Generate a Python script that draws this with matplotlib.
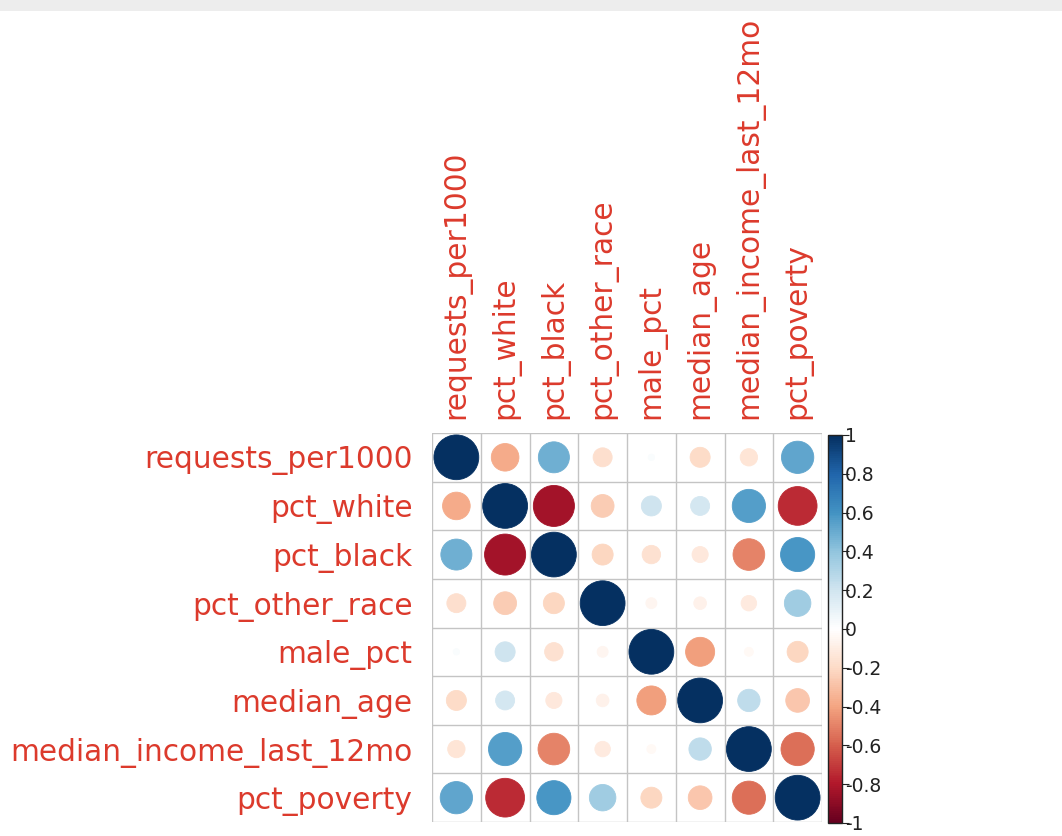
import numpy as np
import matplotlib
matplotlib.use("Agg")
import matplotlib.pyplot as plt
from matplotlib.colors import LinearSegmentedColormap, Normalize
from matplotlib.patches import Circle, Rectangle
from matplotlib.cm import ScalarMappable

variables = ["requests_per1000", "pct_white", "pct_black", "pct_other_race",
             "male_pct", "median_age", "median_income_last_12mo", "pct_poverty"]

row_requests = [1.00, -0.38, 0.48, -0.18, 0.02, -0.20, -0.15, 0.52]
row_white    = [-0.38, 1.00, -0.84, -0.26, 0.20, 0.18, 0.55, -0.75]
row_black    = [0.48, -0.84, 1.00, -0.22, -0.17, -0.13, -0.50, 0.58]
row_other    = [-0.18, -0.26, -0.22, 1.00, -0.06, -0.08, -0.12, 0.35]
row_male     = [0.02, 0.20, -0.17, -0.06, 1.00, -0.42, -0.04, -0.22]
row_age      = [-0.20, 0.18, -0.13, -0.08, -0.42, 1.00, 0.25, -0.28]
row_income   = [-0.15, 0.55, -0.50, -0.12, -0.04, 0.25, 1.00, -0.55]
row_poverty  = [0.52, -0.75, 0.58, 0.35, -0.22, -0.28, -0.55, 1.00]

corr = np.array([row_requests, row_white, row_black, row_other,
                 row_male, row_age, row_income, row_poverty])

cbar_ticks = [1, 0.8, 0.6, 0.4, 0.2, 0, -0.2, -0.4, -0.6, -0.8, -1]
cbar_labels = ["1", "0.8", "0.6", "0.4", "0.2", "0", "-0.2", "-0.4", "-0.6", "-0.8", "-1"]

palette = ["#67001F", "#B2182B", "#D6604D", "#F4A582", "#FDDBC7", "#FFFFFF",
           "#D1E5F0", "#92C5DE", "#4393C3", "#2166AC", "#053061"]
cmap = LinearSegmentedColormap.from_list("corrplot", palette, N=200)
norm = Normalize(-1, 1)

label_color = "#DC3A2C"
W, H = 1062, 836
fig = plt.figure(figsize=(W / 100, H / 100), dpi=100)
fig.patch.set_facecolor("white")
fig.patches.append(Rectangle((0, 1 - 11 / H), 1, 11 / H, transform=fig.transFigure,
                             facecolor="#EDEDED", edgecolor="none"))

ax = fig.add_axes([432 / W, 1 - 822 / H, 390 / W, 389 / H])
n = len(variables)
ax.set_xlim(-0.5, n - 0.5)
ax.set_ylim(n - 0.5, -0.5)
for i in range(n):
    for j in range(n):
        v = corr[i, j]
        c = cmap(norm(v))
        ax.add_patch(Circle((j, i), 0.46 * np.sqrt(abs(v)), facecolor=c,
                            edgecolor=c, linewidth=0.6, zorder=3))
for k in range(n + 1):
    ax.axhline(k - 0.5, color="#C4C4C4", lw=1.0, zorder=1)
    ax.axvline(k - 0.5, color="#C4C4C4", lw=1.0, zorder=1)
for s in ax.spines.values():
    s.set_visible(False)

ax.set_xticks(range(n))
ax.set_yticks(range(n))
ax.set_xticklabels(variables, rotation=90, fontsize=21.3, color=label_color,
                   family="DejaVu Sans")
ax.set_yticklabels(variables, fontsize=21.3, color=label_color, family="DejaVu Sans")
ax.xaxis.tick_top()
ax.tick_params(axis="both", length=0)
ax.tick_params(axis="x", pad=10)
ax.tick_params(axis="y", pad=14)

cax = fig.add_axes([828 / W, 1 - 823 / H, 14 / W, 388 / H])
cb = fig.colorbar(ScalarMappable(norm=norm, cmap=cmap), cax=cax)
cb.set_ticks(cbar_ticks)
cb.set_ticklabels(cbar_labels)
cb.outline.set_linewidth(1.0)
cb.outline.set_edgecolor("#222222")
cax.tick_params(axis="y", length=5, width=0.8, pad=-3, labelsize=13.5,
                labelcolor="#222222", color="#222222")

fig.savefig("out.png", dpi=100)
